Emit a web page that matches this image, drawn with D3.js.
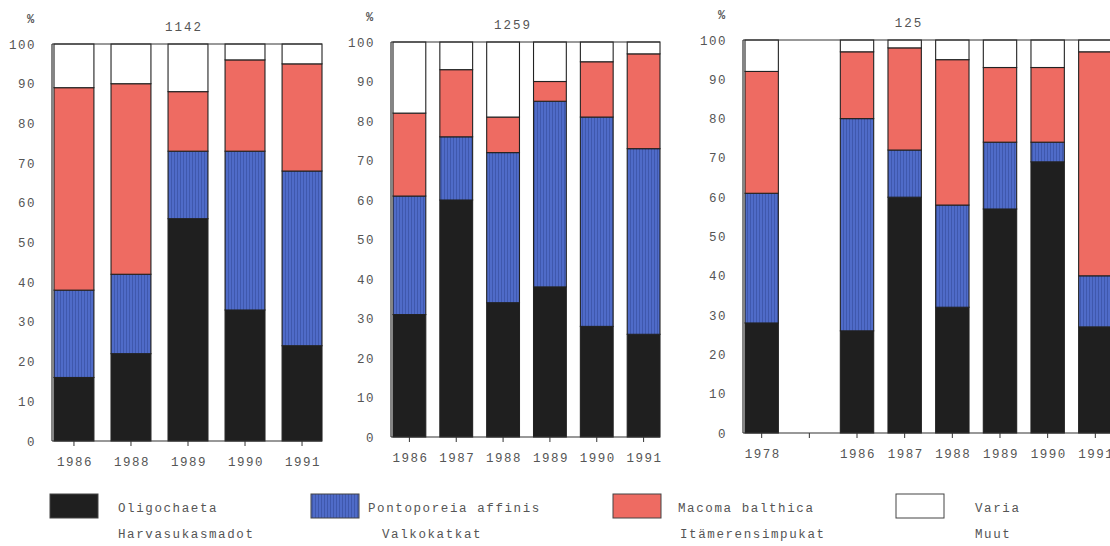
<!DOCTYPE html>
<html>
<head>
<meta charset="utf-8">
<script src="https://cdn.jsdelivr.net/npm/d3@7"></script>
<style>
  html, body { margin: 0; padding: 0; background: #fff; }
  svg { display: block; }
  text { font-family: "Liberation Mono", "DejaVu Sans Mono", monospace; fill: #555; }
</style>
</head>
<body>
<svg id="chart" width="1110" height="546"></svg>
<script>
// Species groups, stacked bottom to top
const seriesKeys = ["oligochaeta", "pontoporeia", "macoma", "varia"];
const seriesNames = ["Oligochaeta", "Pontoporeia affinis", "Macoma balthica", "Varia"];
const seriesFinnish = ["Harvasukasmadot", "Valkokatkat", "Itämerensimpukat", "Muut"];

// Station 1142 (% of individuals)
const years1142 = ["1986", "1988", "1989", "1990", "1991"];
const oligo1142 = [16, 22, 56, 33, 24];
const ponto1142 = [22, 20, 17, 40, 44];
const macoma1142 = [51, 48, 15, 23, 27];
const varia1142 = [11, 10, 12, 4, 5];

// Station 1259
const years1259 = ["1986", "1987", "1988", "1989", "1990", "1991"];
const oligo1259 = [31, 60, 34, 38, 28, 26];
const ponto1259 = [30, 16, 38, 47, 53, 47];
const macoma1259 = [21, 17, 9, 5, 14, 24];
const varia1259 = [18, 7, 19, 10, 5, 3];

// Station 125 (no sampling in the gap slot after 1978)
const years125 = ["1978", "", "1986", "1987", "1988", "1989", "1990", "1991"];
const oligo125 = [28, null, 26, 60, 32, 57, 69, 27];
const ponto125 = [33, null, 54, 12, 26, 17, 5, 13];
const macoma125 = [31, null, 17, 26, 37, 19, 19, 57];
const varia125 = [8, null, 3, 2, 5, 7, 7, 3];

const yTicks = [0, 10, 20, 30, 40, 50, 60, 70, 80, 90, 100];

const svg = d3.select("#chart");

// Hatched blue fill with fine vertical lines
const defs = svg.append("defs");
const pat = defs.append("pattern")
  .attr("id", "blueHatch").attr("patternUnits", "userSpaceOnUse")
  .attr("width", 3).attr("height", 10);
pat.append("rect").attr("width", 3).attr("height", 10).attr("fill", "#4f6bc8");
pat.append("rect").attr("width", 1).attr("height", 10).attr("fill", "#3f58ad");

const fills = {
  oligochaeta: "#1f1f1f",
  pontoporeia: "url(#blueHatch)",
  macoma: "#ee6b62",
  varia: "#ffffff"
};

const panels = [
  { title: "1142", titleX: 184, years: years1142,
    cols: [oligo1142, ponto1142, macoma1142, varia1142],
    x0: 52, x1: 322, top: 44, bottom: 441 },
  { title: "1259", titleX: 513, years: years1259,
    cols: [oligo1259, ponto1259, macoma1259, varia1259],
    x0: 391, x1: 660, top: 42, bottom: 437 },
  { title: "125", titleX: 909, years: years125,
    cols: [oligo125, ponto125, macoma125, varia125],
    x0: 743, x1: 1112, top: 40, bottom: 433 }
];

const labelStyle = sel => sel.attr("font-size", 12.5).attr("letter-spacing", 1.5);

panels.forEach(p => {
  const g = svg.append("g");
  const rows = p.years.map((yr, i) => {
    const r = { year: yr, empty: p.cols[0][i] == null };
    seriesKeys.forEach((k, j) => r[k] = p.cols[j][i] == null ? 0 : p.cols[j][i]);
    return r;
  });

  const x = d3.scaleBand().domain(p.years.map((d, i) => i))
    .range([p.x0 + 2, p.x1]).paddingInner(0.3).paddingOuter(0);
  const y = d3.scaleLinear().domain([0, 100]).range([p.bottom, p.top]);

  const stacked = d3.stack().keys(seriesKeys)(rows);

  // Bars
  stacked.forEach(layer => {
    g.append("g").selectAll("rect")
      .data(layer.map((d, i) => ({ d, i })).filter(o => !o.d.data.empty))
      .join("rect")
      .attr("x", o => x(o.i))
      .attr("width", x.bandwidth())
      .attr("y", o => y(o.d[1]))
      .attr("height", o => y(o.d[0]) - y(o.d[1]))
      .attr("fill", fills[layer.key])
      .attr("stroke", "#222")
      .attr("stroke-width", 1.1);
  });

  // Frame: top line, left axis, bottom axis
  g.append("line").attr("x1", p.x0).attr("x2", p.x1).attr("y1", p.top).attr("y2", p.top)
    .attr("stroke", "#333").attr("stroke-width", 1);
  g.append("line").attr("x1", p.x0).attr("x2", p.x0).attr("y1", p.top).attr("y2", p.bottom)
    .attr("stroke", "#333").attr("stroke-width", 1.2);

  const xAxis = d3.axisBottom(x).tickSize(5).tickSizeOuter(0)
    .tickFormat(i => p.years[i]);
  const ax = g.append("g").attr("transform", `translate(0,${p.bottom})`).call(xAxis);
  ax.select(".domain").attr("d", `M${p.x0},0H${p.x1}`).attr("stroke", "#333").attr("stroke-width", 1.2);
  ax.selectAll(".tick line").attr("stroke", "#333");
  ax.selectAll(".tick text").call(labelStyle).attr("font-family", null)
    .attr("dy", null).attr("y", 25).attr("dx", 1);

  // Y labels (no tick marks)
  const yAxis = d3.axisLeft(y).tickValues(yTicks).tickSize(0).tickPadding(16);
  const ay = g.append("g").attr("transform", `translate(${p.x0},0)`).call(yAxis);
  ay.select(".domain").remove();
  ay.selectAll(".tick text").call(labelStyle).attr("font-family", null);

  // Unit and station title
  g.append("text").attr("x", p.x0 - 25).attr("y", p.top - 21)
    .attr("font-size", 12).attr("font-weight", "bold").text("%");
  g.append("text").attr("x", p.titleX).attr("y", p.top - 13)
    .attr("text-anchor", "middle").call(labelStyle).attr("letter-spacing", 2).text(p.title);
});

// Legend
const legendX = [50, 311, 613, 896];
const textX = [118, 368, 678, 975];
const subX = [118, 382, 680, 975];
const lg = svg.append("g");
seriesKeys.forEach((k, i) => {
  lg.append("rect").attr("x", legendX[i]).attr("y", 494).attr("width", 48).attr("height", 24)
    .attr("fill", fills[k]).attr("stroke", "#444").attr("stroke-width", 1);
  lg.append("text").attr("x", textX[i]).attr("y", 512).call(labelStyle).attr("letter-spacing", 1.6)
    .text(seriesNames[i]);
  lg.append("text").attr("x", subX[i]).attr("y", 538).call(labelStyle).attr("letter-spacing", 1.6)
    .text(seriesFinnish[i]);
});
</script>
</body>
</html>
